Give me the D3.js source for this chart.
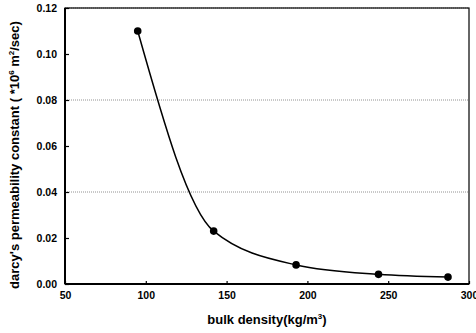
<!DOCTYPE html>
<html>
<head>
<meta charset="utf-8">
<script src="https://cdn.jsdelivr.net/npm/d3@7"></script>
<style>
  body { margin: 0; background: #fff; }
  text { font-family: "Liberation Sans", Arial, sans-serif; font-weight: bold; fill: #000; }
</style>
</head>
<body>
<div id="chart"></div>
<script>
// bulk density (kg/m3) vs darcy's permeability constant
const density = [95, 142, 193, 244, 287];
const permeability = [0.110, 0.023, 0.0083, 0.0042, 0.0030];
const xTicks = [50, 100, 150, 200, 250, 300];
const yTicks = [0, 0.02, 0.04, 0.06, 0.08, 0.10, 0.12];
const gridValues = [0.04, 0.08, 0.12];

const margin = { top: 8, right: 7, bottom: 49, left: 65 };
const width = 476 - margin.left - margin.right;
const height = 333 - margin.top - margin.bottom;

const svg = d3.select('#chart')
    .append('svg')
    .attr('width', 476)
    .attr('height', 333);

const g = svg.append('g')
    .attr('transform', `translate(${margin.left},${margin.top})`);

const xScale = d3.scaleLinear().domain([50, 300]).range([0, width]);
const yScale = d3.scaleLinear().domain([0, 0.12]).range([height, 0]);

// dotted grid lines
g.selectAll('.grid')
    .data(gridValues)
    .enter().append('line')
    .attr('x1', 0)
    .attr('x2', width)
    .attr('y1', d => yScale(d))
    .attr('y2', d => yScale(d))
    .attr('stroke', '#777')
    .attr('stroke-width', 0.8)
    .attr('stroke-dasharray', '1,1');

// frame
g.append('rect')
    .attr('width', width)
    .attr('height', height)
    .attr('fill', 'none')
    .attr('stroke', '#000')
    .attr('stroke-width', 1.2);
g.append('line')
    .attr('x1', 0).attr('x2', 0).attr('y1', 0).attr('y2', height)
    .attr('stroke', '#000').attr('stroke-width', 2);
g.append('line')
    .attr('x1', 0).attr('x2', width).attr('y1', height).attr('y2', height)
    .attr('stroke', '#000').attr('stroke-width', 2);

// axes
const xAxis = d3.axisBottom(xScale).tickValues(xTicks).tickSize(-3).tickPadding(8);
const yAxis = d3.axisLeft(yScale).tickValues(yTicks).tickSize(-4).tickPadding(8)
    .tickFormat(d3.format('.2f'));

const gx = g.append('g')
    .attr('transform', `translate(0,${height})`)
    .call(xAxis);
const gy = g.append('g').call(yAxis);

[gx, gy].forEach(a => {
    a.select('.domain').remove();
    a.selectAll('.tick line').attr('stroke', '#000').attr('stroke-width', 1.2);
    a.selectAll('.tick text').style('font-size', '10.5px').style('font-family', '"Liberation Sans", Arial, sans-serif').style('font-weight', 'bold');
});

// curve
g.append('path')
    .datum(density.map((d, i) => ({ x: d, y: permeability[i] })))
    .attr('fill', 'none')
    .attr('stroke', '#000')
    .attr('stroke-width', 1.5)
    .attr('d', d3.line()
        .x(d => xScale(d.x))
        .y(d => yScale(d.y))
        .curve(d3.curveMonotoneX));

// points
g.selectAll('.pt')
    .data(density)
    .enter().append('circle')
    .attr('cx', d => xScale(d))
    .attr('cy', (d, i) => yScale(permeability[i]))
    .attr('r', 3.8)
    .attr('fill', '#000');

// axis labels
const xl = svg.append('text')
    .attr('x', margin.left + width / 2)
    .attr('y', 324)
    .attr('text-anchor', 'middle')
    .style('font-size', '13px');
xl.append('tspan').text('bulk density(kg/m');
xl.append('tspan').attr('dy', -5).style('font-size', '8px').text('3');
xl.append('tspan').attr('dy', 5).text(')');

const yl = svg.append('text')
    .attr('transform', 'translate(19,155) rotate(-90)')
    .attr('text-anchor', 'middle')
    .style('font-size', '13px');
yl.append('tspan').text("darcy's permeability constant ( *10");
yl.append('tspan').attr('dy', -5).style('font-size', '8px').text('6');
yl.append('tspan').attr('dy', 5).text(' m');
yl.append('tspan').attr('dy', -5).style('font-size', '8px').text('2');
yl.append('tspan').attr('dy', 5).text('/sec)');
</script>
</body>
</html>
